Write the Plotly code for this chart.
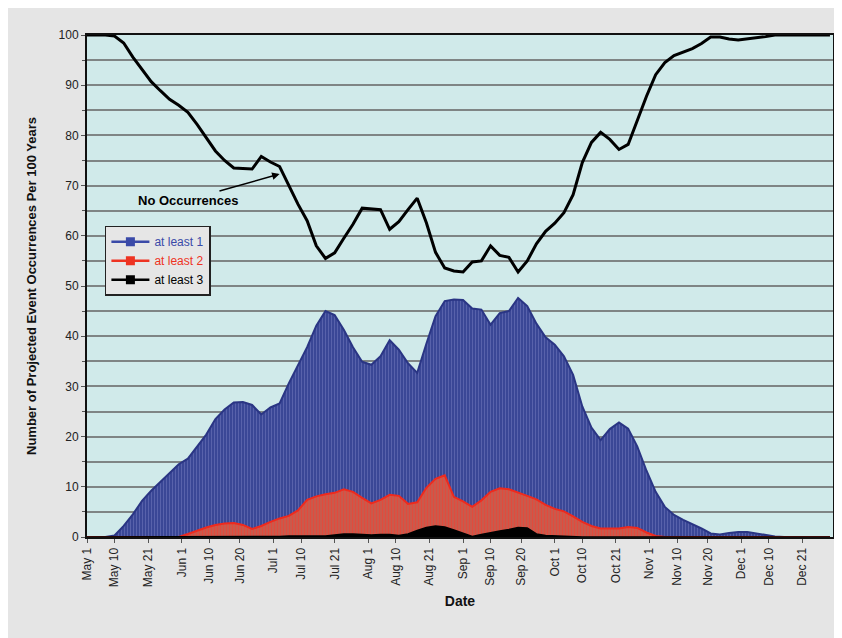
import pandas as pd
import plotly.graph_objects as go

# dates every 3 days from May 1
dates = pd.date_range("2009-05-01", periods=82, freq="3D")

no_occurrences = [
    100, 100, 100, 99.8, 98.4, 95.6, 93.1, 90.7, 88.9, 87.2,
    86.0, 84.6, 82.2, 79.6, 76.9, 75.0, 73.5, 73.4, 73.3, 75.8,
    74.7, 73.8, 70.1, 66.3, 63.0, 58.0, 55.5, 56.6, 59.5, 62.3,
    65.5, 65.4, 65.2, 61.3, 62.8, 65.2, 67.5, 62.6, 56.7, 53.6,
    53.0, 52.8, 54.8, 55.0, 58.0, 56.1, 55.7, 52.8, 55.0, 58.4,
    60.9, 62.5, 64.6, 68.2, 74.6, 78.6, 80.6, 79.2, 77.2, 78.2,
    83.2, 87.8, 92.1, 94.5, 95.9, 96.6, 97.3, 98.3, 99.6, 99.6,
    99.2, 99.0, 99.2, 99.5, 99.7, 100, 100, 100, 100, 100,
    100, 100,
]

at_least_1 = [
    0, 0, 0, 0.3, 2.2, 4.5, 7.2, 9.2, 11.0, 12.8,
    14.5, 15.6, 17.9, 20.4, 23.5, 25.4, 26.8, 26.9, 26.3, 24.4,
    25.8, 26.6, 30.6, 34.1, 37.8, 42.1, 45.0, 44.2, 41.3, 37.8,
    34.9, 34.3, 36.0, 39.2, 37.3, 34.6, 32.7, 38.5, 44.0, 47.0,
    47.3, 47.2, 45.5, 45.3, 42.3, 44.6, 45.0, 47.6, 46.0, 42.5,
    39.8, 38.3, 36.0, 32.3, 26.0, 21.8, 19.3, 21.5, 22.8, 21.6,
    18.0, 13.2, 9.0, 6.0, 4.4, 3.4, 2.6, 1.7, 0.7, 0.5,
    0.8, 1.0, 1.0, 0.7, 0.4, 0.1, 0, 0, 0, 0,
    0, 0,
]

at_least_2 = [
    0, 0, 0, 0, 0, 0, 0, 0, 0, 0,
    0, 0.6, 1.3, 1.9, 2.4, 2.7, 2.8, 2.4, 1.6, 2.2,
    3.0, 3.7, 4.2, 5.3, 7.4, 8.1, 8.5, 8.8, 9.5, 9.0,
    7.8, 6.7, 7.4, 8.4, 8.2, 6.6, 6.9, 9.8, 11.6, 12.3,
    8.0, 7.1, 6.0, 7.3, 9.0, 9.7, 9.5, 8.9, 8.2, 7.5,
    6.4, 5.6, 5.1, 4.1, 3.0, 2.2, 1.7, 1.7, 1.7, 2.0,
    1.8, 0.9, 0.2, 0, 0, 0, 0, 0, 0, 0,
    0, 0, 0, 0, 0, 0, 0, 0, 0, 0,
    0, 0,
]

at_least_3 = [
    0, 0, 0, 0, 0, 0, 0, 0, 0, 0,
    0, 0, 0, 0, 0, 0, 0, 0, 0, 0,
    0, 0.1, 0.2, 0.2, 0.3, 0.3, 0.2, 0.4, 0.6, 0.6,
    0.5, 0.4, 0.5, 0.5, 0.3, 0.6, 1.3, 1.9, 2.2, 2.0,
    1.4, 0.8, 0.1, 0.5, 0.9, 1.2, 1.5, 1.9, 1.8, 0.6,
    0.3, 0.2, 0.1, 0, 0, 0, 0, 0, 0, 0,
    0, 0, 0, 0, 0, 0, 0, 0, 0, 0,
    0, 0, 0, 0, 0, 0, 0, 0, 0, 0,
    0, 0,
]

tick_dates = ["2009-05-01", "2009-05-10", "2009-05-21", "2009-06-01", "2009-06-10",
              "2009-06-20", "2009-07-01", "2009-07-10", "2009-07-21", "2009-08-01",
              "2009-08-10", "2009-08-21", "2009-09-01", "2009-09-10", "2009-09-20",
              "2009-10-01", "2009-10-10", "2009-10-21", "2009-11-01", "2009-11-10",
              "2009-11-20", "2009-12-01", "2009-12-10", "2009-12-21"]
tick_labels = ["May 1", "May 10", "May 21", "Jun 1", "Jun 10", "Jun 20", "Jul 1",
               "Jul 10", "Jul 21", "Aug 1", "Aug 10", "Aug 21", "Sep 1", "Sep 10",
               "Sep 20", "Oct 1", "Oct 10", "Oct 21", "Nov 1", "Nov 10", "Nov 20",
               "Dec 1", "Dec 10", "Dec 21"]

FONT = "Arial, Liberation Sans, sans-serif"

fig = go.Figure()

fig.add_trace(go.Scatter(
    x=dates, y=at_least_1, mode="lines", fill="tozeroy",
    line=dict(color="#2a3584", width=2),
    fillcolor="#3b4899",
    fillpattern=dict(shape="|", bgcolor="#3a4796", fgcolor="#8a90cc", size=3, solidity=0.25),
    showlegend=False, hoverinfo="skip"))
fig.add_trace(go.Scatter(
    x=dates, y=at_least_2, mode="lines", fill="tozeroy",
    line=dict(color="#ee2a1e", width=2),
    fillcolor="#d65a44",
    fillpattern=dict(shape="|", bgcolor="#c95a4c", fgcolor="#ff3a2a", size=3, solidity=0.3),
    showlegend=False, hoverinfo="skip"))
fig.add_trace(go.Scatter(
    x=dates, y=at_least_3, mode="lines", fill="tozeroy",
    line=dict(color="#000000", width=1.5), fillcolor="#000000",
    showlegend=False, hoverinfo="skip"))
fig.add_trace(go.Scatter(
    x=dates, y=no_occurrences, mode="lines",
    line=dict(color="#000000", width=3), showlegend=False))

# legend entries
for nm, col in [("at least 1", "#3a4aa8"), ("at least 2", "#ee3322"), ("at least 3", "#000000")]:
    fig.add_trace(go.Scatter(
        x=[None], y=[None], mode="lines+markers",
        name=f"<span style='color:{col}'>{nm}</span>",
        line=dict(color=col, width=2.5),
        marker=dict(symbol="square", size=9, color=col)))

fig.add_annotation(
    x="2009-07-03", y=72.3, xref="x", yref="y",
    text="<b>No Occurrences</b>", showarrow=True,
    arrowhead=2, arrowsize=1, arrowwidth=1.5, arrowcolor="#000",
    ax=-92, ay=26, font=dict(family=FONT, size=13, color="#000"))

fig.update_layout(
    width=834, height=630,
    paper_bgcolor="#e5e5e5", plot_bgcolor="#d0eaea",
    margin=dict(l=79, r=9, t=27, b=101, autoexpand=False),
    font=dict(family=FONT, size=11, color="#222"),
    legend=dict(x=0.024, y=0.62, xanchor="left", yanchor="top",
                bgcolor="#e6e6e6", bordercolor="#222", borderwidth=1.5,
                font=dict(family=FONT, size=12), tracegroupgap=0,
                itemwidth=38),
    xaxis=dict(
        type="date", range=["2009-05-01", "2009-12-31"], automargin=False,
        tickvals=tick_dates, ticktext=tick_labels, tickangle=-90,
        ticks="outside", ticklen=4, tickcolor="#555",
        showgrid=False, showline=True, linecolor="#111", linewidth=2, mirror=True,
        title=dict(text="<b>Date</b>", font=dict(family=FONT, size=14, color="#111"), standoff=10),
        tickfont=dict(family=FONT, size=12, color="#222")),
    yaxis=dict(
        range=[0, 100], dtick=10, tick0=0, automargin=False,
        ticks="outside", ticklen=4, tickcolor="#555",
        showgrid=True, gridcolor="#7f8585", gridwidth=1.5,
        minor=dict(dtick=5, showgrid=True, gridcolor="#7f8585", gridwidth=1.5,
                   ticks="outside", ticklen=3, tickcolor="#555"),
        showline=True, linecolor="#111", linewidth=2, mirror=True,
        zeroline=False,
        title=dict(text="<b>Number of Projected Event Occurrences Per 100 Years</b>",
                   font=dict(family=FONT, size=13, color="#111"), standoff=19),
        tickfont=dict(family=FONT, size=12, color="#222")),
)

fig.write_html("out.html")
